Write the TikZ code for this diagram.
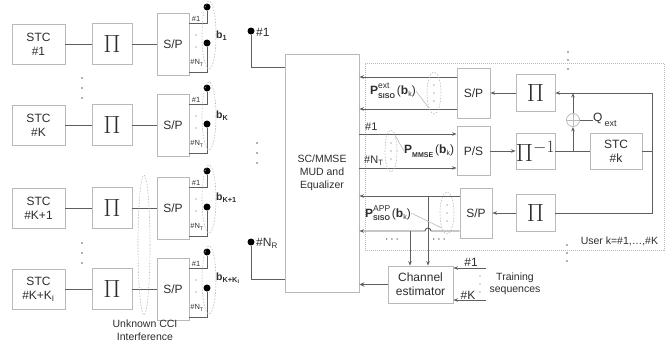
\documentclass[tikz,border=0pt]{standalone}
\usepackage{amsmath}
\usepackage{fontspec}
\setmainfont{Liberation Sans}
\usetikzlibrary{arrows.meta,shapes.geometric}
\definecolor{boxgray}{RGB}{185,185,185}
\definecolor{wiregray}{RGB}{95,95,95}
\definecolor{txtgray}{RGB}{45,45,45}
\newcommand{\softlab}[2]{\textbf{P}\rlap{\raisebox{6pt}{\fontsize{8.5}{9}\selectfont #1}}\raisebox{-3.5pt}{\fontsize{7}{8}\selectfont\bfseries #2}\,(\textbf{b}\raisebox{-2pt}{\fontsize{7}{8}\selectfont k})}
\tikzset{
  blk/.style={draw=boxgray, line width=0.8pt, inner sep=0pt, align=center},
  stcbox/.style={blk, minimum width=53pt, minimum height=40pt},
  pibox/.style={blk, minimum width=40pt, minimum height=41pt, font=\fontsize{24}{24}\selectfont},
  spbox/.style={blk, minimum width=32pt, minimum height=62pt},
  wire/.style={draw=wiregray, line width=0.9pt},
  arr/.style={wire, -{Stealth[length=4.5pt,width=3.5pt]}},
  pin/.style={circle, fill=black, inner sep=0pt, minimum size=7pt},
  grp/.style={ellipse, draw=boxgray, dash pattern=on 1.5pt off 1.5pt, line width=0.6pt, inner sep=0pt},
  port/.style={font=\fontsize{7.5}{8}\selectfont, inner sep=0pt},
  blab/.style={anchor=west, inner sep=0pt, font=\fontsize{10.5}{11}\selectfont\bfseries},
  lab/.style={inner sep=0pt, font=\fontsize{10.5}{12.5}\selectfont, align=center},
  dot/.style={fill=wiregray}
}
\begin{document}
\begin{tikzpicture}[x=1pt,y=-1pt,font=\fontsize{12}{14}\selectfont,text=txtgray]
\useasboundingbox (0,0) rectangle (670,351);
% transmitters, user 1
\node[stcbox] (stc1) at (38.5,44) {STC\\\#1};
\node[pibox] (pi1) at (112,44) {$\Pi$};
\node[spbox] (sp1) at (173,44) {S/P};
\draw[wire] (stc1) -- (pi1);
\draw[wire] (pi1) -- (sp1);
\node[pin] (a1) at (207,7) {};
\node[pin] (n1) at (207,43) {};
\draw[wire] ([yshift=21pt]sp1.east) -| (a1);
\draw[wire] ([yshift=-28pt]sp1.east) -| (n1);
\node[port] (a1l) at (196,19) {\#1};
\node[port] (n1l) at (197,63) {\#N$_{\text{T}}$};
\fill[dot] (196,35) circle (0.7pt) (196,47) circle (0.7pt);
\node[grp, minimum width=14pt, minimum height=68pt] (g1) at (209,35) {};
\node[blab] (b1) at (216,36) {b$_{\text{\bfseries 1}}$};
% user K
\node[stcbox] (stc2) at (38.5,125) {STC\\\#K};
\node[pibox] (pi2) at (112,125) {$\Pi$};
\node[spbox] (sp2) at (173,125) {S/P};
\draw[wire] (stc2) -- (pi2);
\draw[wire] (pi2) -- (sp2);
\node[pin] (a2) at (207,88) {};
\node[pin] (n2) at (207,124) {};
\draw[wire] ([yshift=21pt]sp2.east) -| (a2);
\draw[wire] ([yshift=-28pt]sp2.east) -| (n2);
\node[port] (a2l) at (196,100) {\#1};
\node[port] (n2l) at (197,144) {\#N$_{\text{T}}$};
\fill[dot] (196,116) circle (0.7pt) (196,128) circle (0.7pt);
\node[grp, minimum width=14pt, minimum height=68pt] (g2) at (209,116) {};
\node[blab] (b2) at (216,116) {b$_{\text{\bfseries K}}$};
% interferer K+1
\node[stcbox] (stc3) at (38.5,208) {STC\\\#K+1};
\node[pibox] (pi3) at (112,208) {$\Pi$};
\node[spbox] (sp3) at (173,208) {S/P};
\draw[wire] (stc3) -- (pi3);
\draw[wire] (pi3) -- (sp3);
\node[pin] (a3) at (207,171) {};
\node[pin] (n3) at (207,207) {};
\draw[wire] ([yshift=21pt]sp3.east) -| (a3);
\draw[wire] ([yshift=-28pt]sp3.east) -| (n3);
\node[port] (a3l) at (196,183) {\#1};
\node[port] (n3l) at (197,227) {\#N$_{\text{T}}$};
\fill[dot] (196,199) circle (0.7pt) (196,211) circle (0.7pt);
\node[grp, minimum width=14pt, minimum height=68pt] (g3) at (209,199) {};
\node[blab] (b3) at (216,198) {b$_{\text{\bfseries K+1}}$};
% interferer K+K_I
\node[stcbox] (stc4) at (38.5,289) {STC\\\#K+K$_{\text{I}}$};
\node[pibox] (pi4) at (112,289) {$\Pi$};
\node[spbox] (sp4) at (173,289) {S/P};
\draw[wire] (stc4) -- (pi4);
\draw[wire] (pi4) -- (sp4);
\node[pin] (a4) at (207,252) {};
\node[pin] (n4) at (207,288) {};
\draw[wire] ([yshift=21pt]sp4.east) -| (a4);
\draw[wire] ([yshift=-28pt]sp4.east) -| (n4);
\node[port] (a4l) at (196,264) {\#1};
\node[port] (n4l) at (197,308) {\#N$_{\text{T}}$};
\fill[dot] (196,280) circle (0.7pt) (196,292) circle (0.7pt);
\node[grp, minimum width=14pt, minimum height=68pt] (g4) at (209,280) {};
\node[blab] (b4) at (216,278) {b$_{\text{\bfseries K+K}_{\text{\bfseries I}}}$};
\fill[dot] (82,78) circle (0.8pt) (82,88) circle (0.8pt) (82,98) circle (0.8pt);
\fill[dot] (82,243) circle (0.8pt) (82,253) circle (0.8pt) (82,263) circle (0.8pt);
\node[grp, minimum width=12pt, minimum height=140pt] (cci) at (144,245) {};
\node[lab, below] (ccil) at (145,320) {Unknown CCI\\Interference};
% receiver
\node[blk, minimum width=74pt, minimum height=238pt, font=\fontsize{10.5}{13}\selectfont] (mud) at (322,173) {SC/MMSE\\MUD and\\Equalizer};
\node[pin] (rx1) at (251,31) {};
\node[pin] (rxn) at (251,242) {};
\node[anchor=west, inner sep=0pt] (rx1l) at (256,32) {\#1};
\node[anchor=west, inner sep=0pt] (rxnl) at (256,243) {\#N$_{\text{R}}$};
\draw[wire] (rx1) |- ([yshift=106pt]mud.west);
\draw[wire] (rxn) |- ([yshift=-106pt]mud.west);
\fill[dot] (257,143) circle (0.8pt) (257,153) circle (0.8pt) (257,163) circle (0.8pt);
% user k decoder
\node[draw=boxgray, dash pattern=on 1pt off 1pt, line width=0.6pt, minimum width=299pt, minimum height=187pt] (user) at (514.5,156.5) {};
\node[lab, anchor=south east] (userl) at ([xshift=-6pt,yshift=4pt]user.south east) {User k=\#1,\ldots,\#K};
\fill[dot] (568,52) circle (0.8pt) (568,60) circle (0.8pt) (568,69) circle (0.8pt);
\fill[dot] (567,245) circle (0.8pt) (567,253) circle (0.8pt) (567,261) circle (0.8pt);
\node[blk, minimum width=33pt, minimum height=50pt] (spt) at (473.5,93) {S/P};
\node[pibox, minimum width=39pt, minimum height=37pt] (pit) at (535.5,93) {$\Pi$};
\node[blk, minimum width=33pt, minimum height=49pt] (ps) at (473.5,151) {P/S};
\node[pibox, minimum width=39pt, minimum height=36pt] (piinv) at (535.5,151) {$\Pi^{-1}$};
\node[blk, minimum width=52pt, minimum height=36pt] (stck) at (616,151) {STC\\\#k};
\node[blk, minimum width=32pt, minimum height=50pt] (spb) at (476,213) {S/P};
\node[pibox, minimum width=39pt, minimum height=37pt] (pib) at (535.5,213) {$\Pi$};
\node[blk, minimum width=65pt, minimum height=37pt] (chest) at (420.5,284.5) {Channel\\estimator};
\draw[arr] (pit) -- (spt);
\draw[arr] (ps) -- (piinv);
\draw[wire] (piinv) -- (stck);
\draw[arr] (pib) -- (spb);
\coordinate (fb) at (652,151);
\draw[wire] (stck) -- (fb);
\draw[arr] (fb) |- (pit);
\draw[wire] (fb) |- (pib);
\coordinate (qj) at (573,151);
\node[circle, draw=boxgray, line width=0.8pt, minimum size=13pt, inner sep=0pt] (qsum) at (573,120) {};
\draw[draw=boxgray, line width=0.8pt] (qsum.west) -- (qsum.east) (qsum.north) -- (qsum.south);
\draw[arr] (qj) -- (qsum);
\draw[arr] (qsum) -- (qsum |- pit);
\node[anchor=west, inner sep=0pt] (qlab) at (593,120) {Q\,\raisebox{-5pt}{\fontsize{9}{10}\selectfont ext}};
\draw[wire] (qsum) -- (qlab);
% soft information to and from the equalizer
\draw[arr] ([yshift=16pt]spt.west) -- ([yshift=16pt]spt.west -| mud.east);
\draw[arr] ([yshift=-16pt]spt.west) -- ([yshift=-16pt]spt.west -| mud.east);
\node[grp, minimum width=14pt, minimum height=42pt] (ge) at (434,93) {};
\fill[dot] (434,85) circle (0.7pt) (434,93) circle (0.7pt) (434,101) circle (0.7pt);
\node[inner sep=0pt] (pext) at (393,91) {\softlab{ext}{SISO}};
\draw[draw=boxgray, line width=0.6pt] (pext.east) -- (ge.south west);
\draw[arr] ([yshift=17pt]ps.west -| mud.east) -- ([yshift=17pt]ps.west);
\draw[arr] ([yshift=-17pt]ps.west -| mud.east) -- ([yshift=-17pt]ps.west);
\node[anchor=west, inner sep=0pt, font=\fontsize{11}{12}\selectfont] (m1l) at (365,127) {\#1};
\node[anchor=west, inner sep=0pt, font=\fontsize{11}{12}\selectfont] (mnl) at (364,161) {\#N$_{\text{T}}$};
\node[grp, minimum width=12pt, minimum height=42pt] (gm) at (391,151) {};
\fill[dot] (391,143) circle (0.7pt) (391,151) circle (0.7pt) (391,159) circle (0.7pt);
\node[anchor=west, inner sep=0pt] (pmmse) at (404,151) {\textbf{P}\raisebox{-3.5pt}{\fontsize{7}{8}\selectfont\bfseries MMSE}\,(\textbf{b}\raisebox{-2pt}{\fontsize{7}{8}\selectfont k})};
\draw[draw=boxgray, line width=0.6pt] (gm.north east) -- (pmmse.west);
\coordinate (br1) at ([yshift=17pt]spb.west -| 428,0);
\coordinate (br2) at ([yshift=-18pt]spb.west -| 410,0);
\coordinate (hop) at ([yshift=-18pt]spb.west -| 428,0);
\draw[arr] ([yshift=17pt]spb.west) -- ([yshift=17pt]spb.west -| mud.east);
\draw[arr] ([yshift=-18pt]spb.west) -- ([xshift=3pt]hop) arc[start angle=0, end angle=180, radius=3pt] -- ([yshift=-18pt]spb.west -| mud.east);
\draw[arr] (br1) -- (br1 |- chest.north);
\draw[arr] (br2) -- (br2 |- chest.north);
\node[grp, minimum width=14pt, minimum height=42pt] (ga) at (447,213) {};
\fill[dot] (447,205) circle (0.7pt) (447,213) circle (0.7pt) (447,221) circle (0.7pt);
\node[inner sep=0pt] (papp) at (388,213) {\softlab{APP}{SISO}};
\draw[draw=boxgray, line width=0.6pt] (papp.east) -- (ga.south west);
\node[inner sep=0pt] (dl) at (393,240) {$\cdots$};
\node[inner sep=0pt] (dr) at (440,240) {$\cdots$};
% channel estimation
\draw[wire, line width=1.8pt, -{Stealth[length=5pt,width=4.5pt]}] (chest) -- (chest -| mud.east);
\coordinate (tr1) at (486,268);
\coordinate (trk) at (486,300);
\draw[arr] (tr1) -- (tr1 -| chest.east);
\draw[arr] (trk) -- (trk -| chest.east);
\node[inner sep=0pt] (tr1l) at (471,262) {\#1};
\node[inner sep=0pt] (trkl) at (468,295) {\#K};
\fill[dot] (480,276) circle (0.7pt) (480,284) circle (0.7pt) (480,292) circle (0.7pt);
\node[lab] (trl) at (515,284) {Training\\sequences};
\end{tikzpicture}
\end{document}
